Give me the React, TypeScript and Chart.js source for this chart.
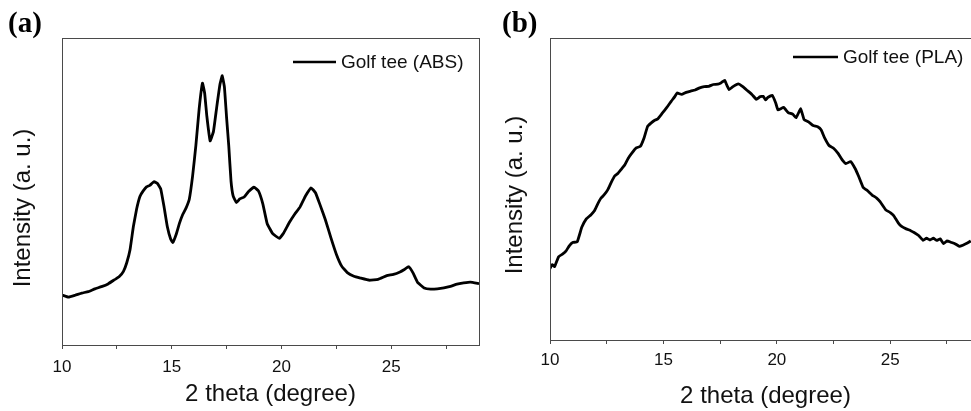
import React, { useEffect, useRef } from "react";
import { Chart, registerables } from "chart.js";

Chart.register(...registerables);

// ---- Data ----
const absTheta = [10.0, 10.3, 10.6, 10.9, 11.2, 11.5, 11.8, 12.1, 12.4, 12.6, 12.8, 12.95, 13.1, 13.25, 13.4, 13.55, 13.7, 13.85, 14.0, 14.2, 14.35, 14.5, 14.65, 14.8, 14.95, 15.05, 15.2, 15.35, 15.5, 15.65, 15.8, 15.95, 16.1, 16.25, 16.4, 16.5, 16.6, 16.75, 16.9, 17.05, 17.2, 17.3, 17.4, 17.5, 17.6, 17.7, 17.8, 17.95, 18.1, 18.3, 18.5, 18.75, 18.95, 19.15, 19.35, 19.6, 19.9, 20.1, 20.35, 20.6, 20.85, 21.1, 21.35, 21.55, 21.75, 22.0, 22.25, 22.5, 22.75, 23.0, 23.3, 23.6, 24.0, 24.4, 24.8, 25.1, 25.4, 25.6, 25.8, 26.0, 26.2, 26.5, 26.8, 27.1, 27.4, 27.7, 28.0, 28.3, 28.6, 29.0];
const absIntensity = [16.3, 15.6, 16.2, 16.9, 17.4, 18.3, 19.0, 19.9, 21.3, 22.2, 24.0, 26.8, 31.0, 38.5, 44.3, 48.4, 50.2, 51.5, 52.0, 53.2, 52.6, 50.8, 45.0, 38.5, 34.5, 33.4, 36.0, 39.6, 42.5, 44.6, 47.5, 55.0, 65.0, 77.0, 85.3, 82.0, 74.5, 66.5, 69.5, 77.5, 85.0, 87.7, 84.0, 74.0, 64.7, 53.5, 48.5, 46.4, 47.6, 48.2, 50.0, 51.4, 50.2, 46.0, 39.5, 36.3, 34.7, 36.5, 39.8, 42.6, 45.0, 48.6, 51.2, 49.6, 45.8, 40.8, 35.0, 29.6, 25.6, 23.6, 22.4, 21.8, 21.1, 21.4, 22.6, 23.0, 23.8, 24.6, 25.5, 23.4, 20.4, 18.6, 18.2, 18.3, 18.6, 19.1, 19.8, 20.2, 20.5, 20.0];

const plaTheta = [10.0, 10.1, 10.2, 10.38, 10.55, 10.7, 10.85, 11.0, 11.2, 11.4, 11.6, 11.8, 11.95, 12.1, 12.25, 12.4, 12.55, 12.7, 12.85, 13.0, 13.15, 13.3, 13.45, 13.6, 13.8, 13.98, 14.15, 14.3, 14.45, 14.6, 14.75, 14.95, 15.15, 15.35, 15.5, 15.6, 15.8, 16.0, 16.2, 16.4, 16.6, 16.8, 17.0, 17.2, 17.4, 17.55, 17.7, 17.8, 17.9, 18.05, 18.3, 18.5, 18.7, 18.9, 19.1, 19.25, 19.4, 19.5, 19.6, 19.8, 19.95, 20.05, 20.3, 20.5, 20.7, 20.85, 21.05, 21.2, 21.4, 21.6, 21.8, 21.95, 22.1, 22.3, 22.5, 22.7, 22.9, 23.05, 23.25, 23.45, 23.6, 23.8, 24.0, 24.2, 24.4, 24.55, 24.8, 25.0, 25.15, 25.35, 25.5, 25.7, 25.9, 26.05, 26.25, 26.45, 26.6, 26.75, 26.9, 27.05, 27.2, 27.35, 27.5, 27.7, 27.85, 28.05, 28.2, 28.4, 28.55];
const plaIntensity = [23.7, 25.0, 24.3, 27.6, 28.4, 29.4, 31.2, 32.3, 32.5, 37.3, 40.1, 41.4, 42.7, 45.0, 47.0, 48.2, 49.8, 52.2, 54.3, 55.2, 56.6, 58.0, 60.2, 61.8, 63.6, 64.1, 67.0, 70.7, 71.8, 72.7, 73.2, 75.1, 77.0, 79.1, 80.6, 81.8, 81.3, 82.0, 82.4, 82.8, 83.5, 83.9, 84.0, 84.6, 84.7, 85.2, 86.0, 84.3, 82.9, 83.8, 84.8, 83.9, 82.6, 81.3, 79.7, 80.5, 80.7, 79.5, 80.3, 81.0, 78.5, 76.2, 77.0, 75.3, 74.8, 73.6, 76.6, 73.0, 72.2, 71.0, 70.6, 69.6, 67.0, 64.4, 63.5, 61.8, 59.5, 58.4, 59.1, 56.8, 54.3, 50.6, 49.4, 48.0, 47.0, 45.8, 43.1, 42.2, 41.2, 38.8, 37.6, 36.8, 36.2, 35.6, 34.6, 33.0, 33.7, 33.1, 33.7, 33.0, 33.5, 31.9, 32.8, 32.3, 31.9, 31.0, 31.4, 32.1, 32.8];

const majorTickLabels = [10, 15, 20, 25];
const seriesLabels = ["Golf tee (ABS)", "Golf tee (PLA)"];
const xTitle = "2 theta (degree)";
const yTitle = "Intensity (a. u.)";

const SANS = "'Liberation Sans', Arial, sans-serif";
const FRAME = "#4a4a4a";

type PanelCfg = {
  theta: number[];
  values: number[];
  label: string;
  width: number;
  height: number;
  pad: { left: number; top: number; right: number; bottom: number };
  yWidth: number;
  xHeight: number;
  tickGap: number;
  titlePadBottom: number;
  legend: { x1: number; x2: number; y: number; tx: number; size: number };
  yTitlePos: { x: number; y: number };
};

const framePlugin = {
  id: "frameAndExtras",
  afterDraw(chart: any, _args: any, opts: any) {
    const { ctx, chartArea } = chart;
    ctx.save();
    ctx.strokeStyle = FRAME;
    ctx.lineWidth = 1;
    ctx.strokeRect(
      Math.round(chartArea.left) + 0.5,
      Math.round(chartArea.top) + 0.5,
      Math.round(chartArea.right - chartArea.left),
      Math.round(chartArea.bottom - chartArea.top)
    );
    // legend
    const lg = opts.legend;
    ctx.strokeStyle = "#000";
    ctx.lineWidth = 2.5;
    ctx.beginPath();
    ctx.moveTo(lg.x1, lg.y);
    ctx.lineTo(lg.x2, lg.y);
    ctx.stroke();
    ctx.fillStyle = "#111";
    ctx.font = `${lg.size}px ${SANS}`;
    ctx.textBaseline = "middle";
    ctx.textAlign = "left";
    ctx.fillText(opts.label, lg.tx, lg.y + 1);
    // y title
    ctx.translate(opts.yTitlePos.x, opts.yTitlePos.y);
    ctx.rotate(-Math.PI / 2);
    ctx.font = `24px ${SANS}`;
    ctx.textAlign = "center";
    ctx.textBaseline = "middle";
    ctx.fillText(yTitle, 0, 0);
    ctx.restore();
  },
};

function Panel({ cfg, style }: { cfg: PanelCfg; style: React.CSSProperties }) {
  const ref = useRef<HTMLCanvasElement>(null);
  useEffect(() => {
    if (!ref.current) return;
    const chart = new Chart(ref.current, {
      type: "line",
      data: {
        datasets: [
          {
            label: cfg.label,
            data: cfg.theta.map((t, i) => ({ x: t, y: cfg.values[i] })),
            borderColor: "#000",
            borderWidth: 2.8,
            pointRadius: 0,
            tension: 0.1,
            fill: false,
          },
        ],
      },
      options: {
        responsive: false,
        animation: false,
        devicePixelRatio: 1,
        layout: { padding: cfg.pad },
        plugins: {
          legend: { display: false },
          tooltip: { enabled: false },
          frameAndExtras: {
            legend: cfg.legend,
            label: cfg.label,
            yTitlePos: cfg.yTitlePos,
          },
        } as any,
        scales: {
          x: {
            type: "linear",
            min: 10,
            max: 29,
            afterFit: (s: any) => {
              s.height = cfg.xHeight;
            },
            border: { display: false },
            grid: {
              display: true,
              drawOnChartArea: false,
              drawTicks: true,
              tickLength: 4,
              color: FRAME,
              lineWidth: 1,
            },
            ticks: {
              stepSize: 2.5,
              includeBounds: false,
              autoSkip: false,
              maxRotation: 0,
              padding: cfg.tickGap,
              color: "#111",
              font: { family: SANS, size: 17 },
              callback: (v: any) =>
                majorTickLabels.includes(Number(v)) ? String(v) : "",
            },
            title: {
              display: true,
              text: xTitle,
              color: "#111",
              font: { family: SANS, size: 24 },
              padding: { top: 4, bottom: cfg.titlePadBottom },
            },
          },
          y: {
            type: "linear",
            min: 0,
            max: 100,
            afterFit: (s: any) => {
              s.width = cfg.yWidth;
            },
            border: { display: false },
            grid: { display: false },
            ticks: { display: false },
          },
        },
      },
      plugins: [framePlugin],
    });
    return () => chart.destroy();
  }, [cfg]);
  return (
    <canvas
      ref={ref}
      width={cfg.width}
      height={cfg.height}
      style={{ position: "absolute", width: cfg.width, height: cfg.height, ...style }}
    />
  );
}

const leftCfg: PanelCfg = {
  theta: absTheta,
  values: absIntensity,
  label: seriesLabels[0],
  width: 490,
  height: 411,
  pad: { left: 7, top: 38, right: 11, bottom: 0 },
  yWidth: 55,
  xHeight: 66,
  tickGap: 8,
  titlePadBottom: 2,
  legend: { x1: 293, x2: 336, y: 62, tx: 341, size: 19 },
  yTitlePos: { x: 23, y: 208 },
};

const rightCfg: PanelCfg = {
  theta: plaTheta,
  values: plaIntensity,
  label: seriesLabels[1],
  width: 500,
  height: 411,
  pad: { left: 0, top: 38, right: 9, bottom: 0 },
  yWidth: 60,
  xHeight: 71,
  tickGap: 6,
  titlePadBottom: 0,
  legend: { x1: 303, x2: 348, y: 57, tx: 353, size: 19 },
  yTitlePos: { x: 25, y: 195 },
};

const panelLabel: React.CSSProperties = {
  position: "absolute",
  fontFamily: "'Liberation Serif', 'Times New Roman', serif",
  fontWeight: "bold",
  fontSize: 29,
  lineHeight: "29px",
  color: "#000",
};

export default function App() {
  return (
    <div
      style={{
        position: "fixed",
        left: 0,
        top: 0,
        width: 971,
        height: 411,
        overflow: "hidden",
        background: "#fff",
      }}
    >
      <Panel cfg={leftCfg} style={{ left: 0, top: 0 }} />
      <Panel cfg={rightCfg} style={{ left: 490, top: 0 }} />
      <div style={{ ...panelLabel, left: 8, top: 8 }}>(a)</div>
      <div style={{ ...panelLabel, left: 502, top: 8 }}>(b)</div>
    </div>
  );
}
